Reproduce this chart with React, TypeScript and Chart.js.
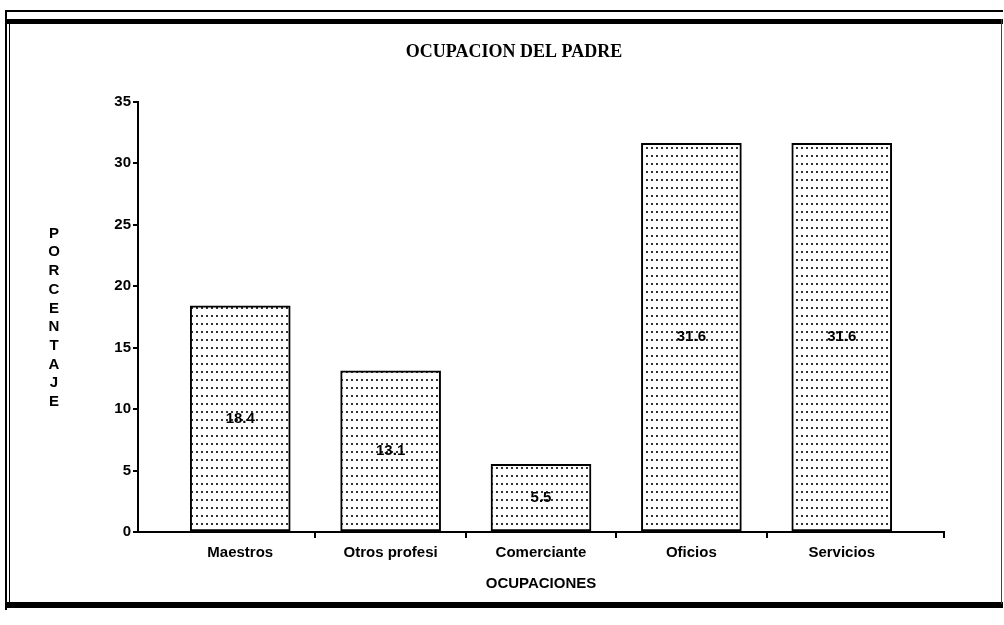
import React, { useEffect, useRef } from 'react';
import { Chart, registerables } from 'chart.js';

Chart.register(...registerables);

const chartTitle = 'OCUPACION DEL PADRE';
const categories = ['Maestros', 'Otros profesi', 'Comerciante', 'Oficios', 'Servicios'];
const values = [18.4, 13.1, 5.5, 31.6, 31.6];
const xTitle = 'OCUPACIONES';
const yTitle = 'PORCENTAJE';
const yMin = 0;
const yMax = 35;
const yStep = 5;

const SANS = '"Liberation Sans", Arial, sans-serif';
const SERIF = '"Liberation Serif", "Times New Roman", serif';

function makePattern(): CanvasPattern | string {
  const c = document.createElement('canvas');
  c.width = 5;
  c.height = 8;
  const g = c.getContext('2d');
  if (!g) return '#e8e8e8';
  g.fillStyle = '#ffffff';
  g.fillRect(0, 0, 5, 8);
  g.fillStyle = '#333333';
  g.fillRect(1, 3, 2, 2);
  return g.createPattern(c, 'repeat') || '#e8e8e8';
}

const barLabels = {
  id: 'barLabels',
  afterDatasetsDraw(chart: any) {
    const ctx = chart.ctx;
    const meta = chart.getDatasetMeta(0);
    ctx.save();
    ctx.font = 'bold 15px ' + SANS;
    ctx.fillStyle = '#000';
    ctx.textAlign = 'center';
    ctx.textBaseline = 'middle';
    meta.data.forEach((el: any, i: number) => {
      const p = el.getProps(['x', 'y', 'base'], true);
      ctx.fillText(values[i].toFixed(1), p.x, (p.y + p.base) / 2);
    });
    ctx.restore();
  },
};

const stackedYTitle = {
  id: 'stackedYTitle',
  afterDraw(chart: any) {
    const { ctx, chartArea } = chart;
    ctx.save();
    ctx.font = 'bold 15px ' + SANS;
    ctx.fillStyle = '#000';
    ctx.textAlign = 'center';
    ctx.textBaseline = 'middle';
    const x = chartArea.left - 84;
    const y0 = chartArea.top + 132;
    yTitle.split('').forEach((ch, i) => {
      ctx.fillText(ch, x, y0 + i * 18.7);
    });
    ctx.restore();
  },
};

export default function App() {
  const ref = useRef<HTMLCanvasElement | null>(null);

  useEffect(() => {
    if (!ref.current) return;
    const pattern = makePattern();
    const lo = -0.68;
    const hi = categories.length - 1 + 0.68;
    const chart = new Chart(ref.current, {
      type: 'bar',
      data: {
        datasets: [
          {
            label: 'Porcentaje',
            data: values.map((v, i) => ({ x: i, y: v })),
            backgroundColor: pattern as any,
            borderColor: '#000',
            borderWidth: 2,
            borderSkipped: false,
            barThickness: 100,
            xAxisID: 'x',
            yAxisID: 'y',
          } as any,
        ],
      },
      options: {
        animation: false,
        responsive: true,
        maintainAspectRatio: false,
        layout: { padding: { left: 84, right: 60, top: 28, bottom: 32 } },
        plugins: {
          legend: { display: false },
          tooltip: { enabled: false },
          title: {
            display: true,
            text: chartTitle,
            color: '#000',
            font: { family: SERIF, size: 18, weight: 'bold' },
            padding: { top: 14, bottom: 38 },
          },
        },
        scales: {
          x: {
            type: 'linear',
            min: lo,
            max: hi,
            offset: false,
            weight: 0,
            afterBuildTicks: (s: any) => {
              const t = categories.slice(1).map((_, i) => ({ value: i + 0.5 }));
              t.push({ value: hi });
              s.ticks = t;
            },
            ticks: { display: false },
            grid: {
              offset: false,
              drawOnChartArea: false,
              drawTicks: true,
              tickLength: 6,
              color: '#000',
              lineWidth: 2,
            },
            border: { display: true, color: '#000', width: 2 },
          },
          x2: {
            type: 'linear',
            position: 'bottom',
            min: lo,
            max: hi,
            offset: false,
            weight: 1,
            afterBuildTicks: (s: any) => {
              s.ticks = categories.map((_, i) => ({ value: i }));
            },
            ticks: {
              autoSkip: false,
              maxRotation: 0,
              padding: 6,
              color: '#000',
              font: { family: SANS, size: 15, weight: 'bold' },
              callback: (_v: any, i: number) => categories[i],
            },
            grid: { display: false, drawTicks: false, offset: false },
            border: { display: false },
            title: {
              display: true,
              text: xTitle,
              color: '#000',
              font: { family: SANS, size: 15, weight: 'bold' },
              padding: { top: 7, bottom: 0 },
            },
          },
          y: {
            type: 'linear',
            min: yMin,
            max: yMax,
            afterFit: (s: any) => {
              s.width = 54;
            },
            ticks: {
              stepSize: yStep,
              padding: 2,
              color: '#000',
              font: { family: SANS, size: 15, weight: 'bold' },
            },
            grid: {
              drawOnChartArea: false,
              drawTicks: true,
              tickLength: 5,
              color: '#000',
              lineWidth: 2,
            },
            border: { display: true, color: '#000', width: 2 },
          },
        },
      } as any,
      plugins: [barLabels, stackedYTitle],
    });
    return () => chart.destroy();
  }, []);

  const line = (s: React.CSSProperties): React.CSSProperties => ({
    position: 'absolute',
    background: '#000',
    ...s,
  });

  return (
    <div style={{ position: 'absolute', left: 0, top: 0, width: 1004, height: 625, background: '#fff' }}>
      <div style={line({ left: 5, top: 10, width: 998, height: 2 })} />
      <div style={line({ left: 5, top: 19, width: 998, height: 5 })} />
      <div style={line({ left: 5, top: 10, width: 2, height: 600 })} />
      <div style={line({ left: 9, top: 19, width: 1, height: 588 })} />
      <div style={line({ left: 5, top: 602, width: 998, height: 6 })} />
      <div style={line({ left: 1001, top: 19, width: 1, height: 585, background: '#444' })} />
      <canvas ref={ref} style={{ position: 'absolute', left: 0, top: 0 }} />
    </div>
  );
}
